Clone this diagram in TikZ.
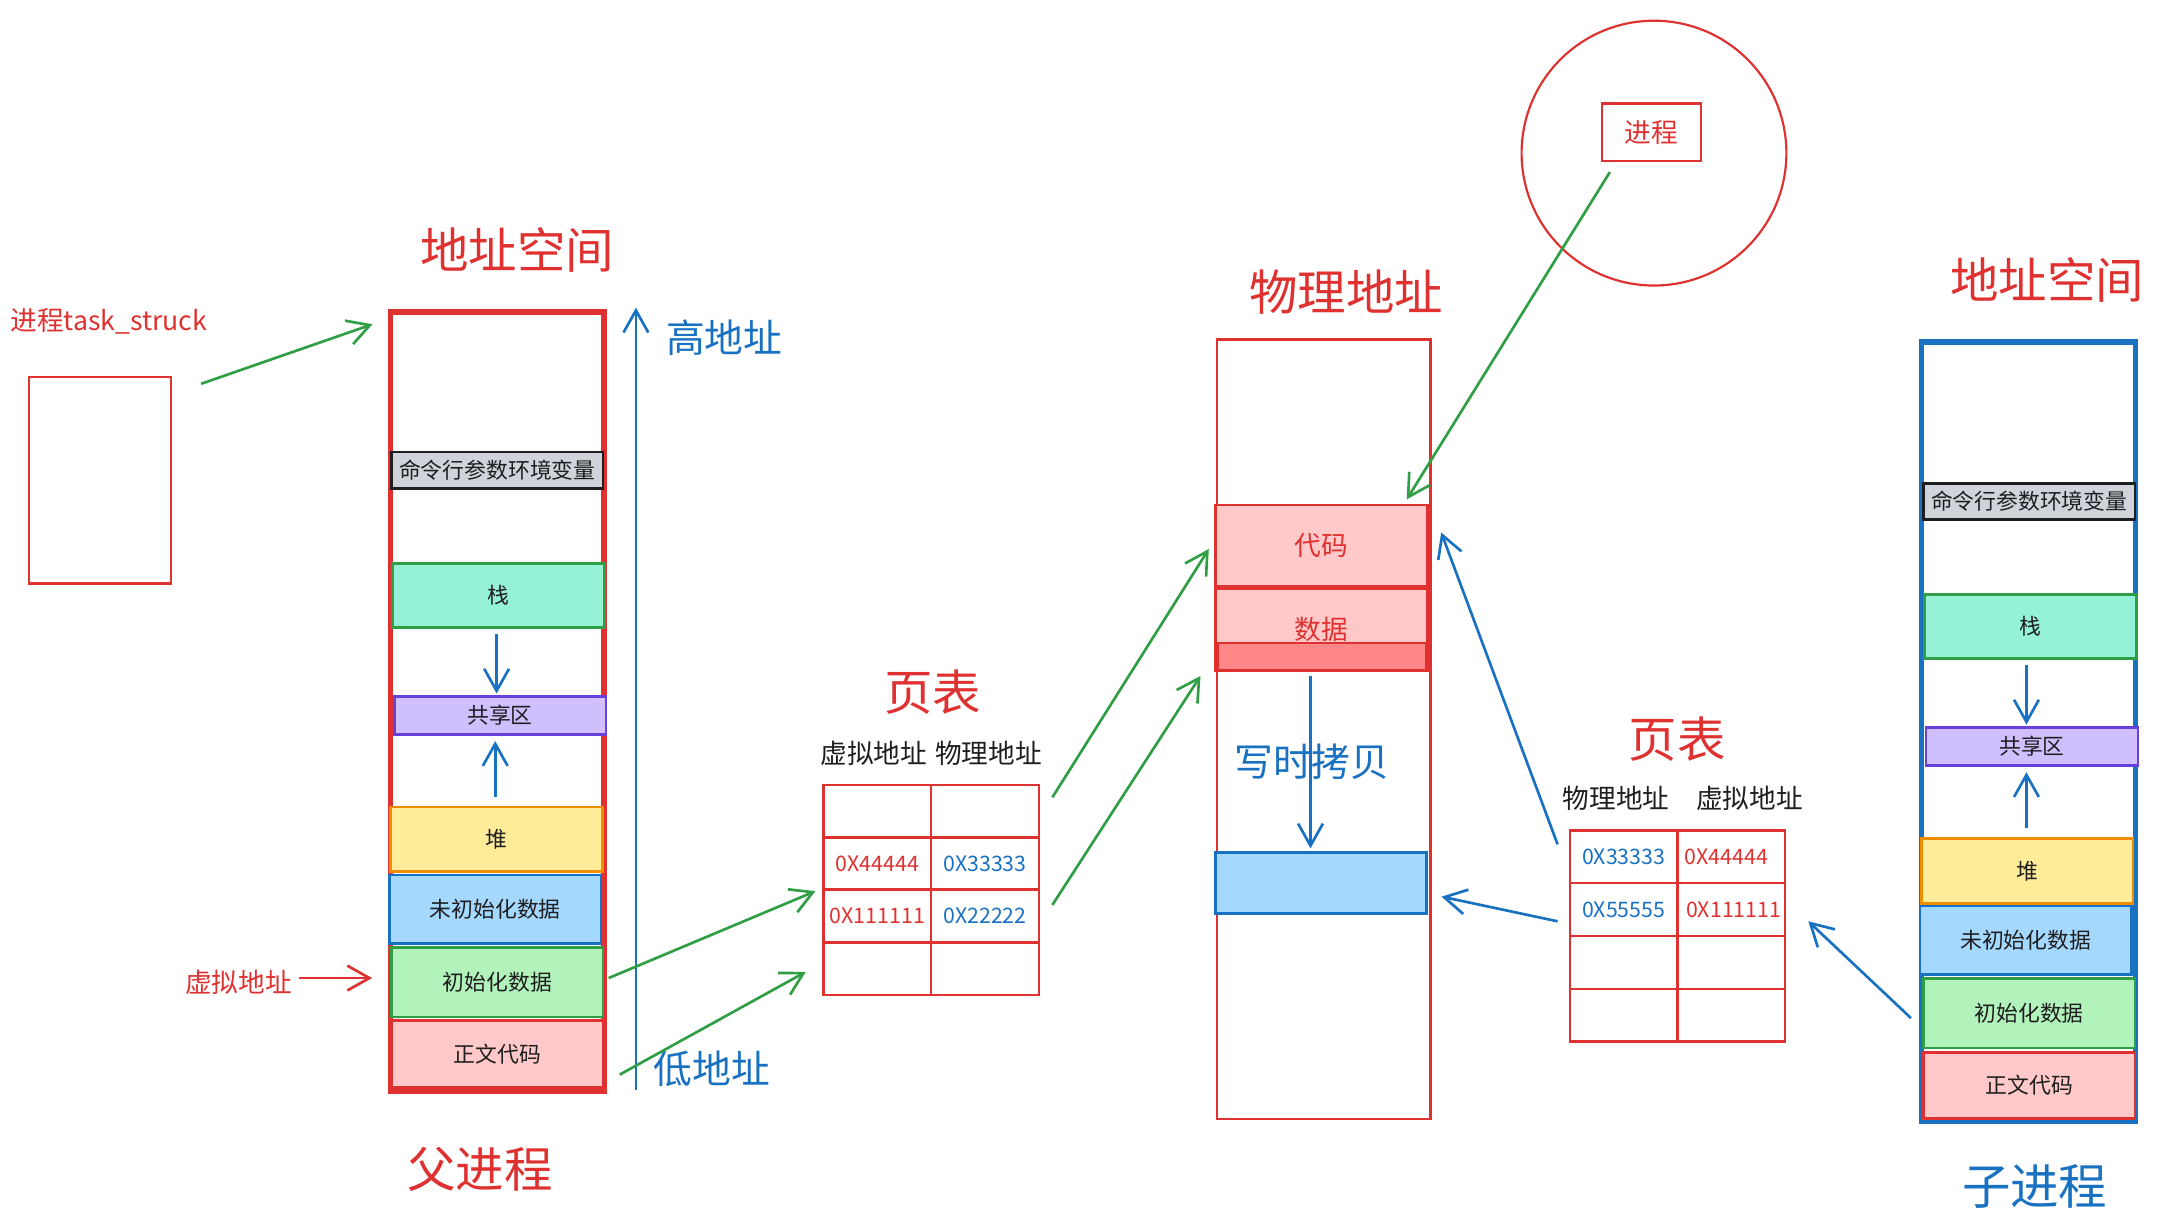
\documentclass[tikz,border=0pt]{standalone}
\usepackage{fontspec}
\setmainfont{Noto Sans CJK SC}
\usetikzlibrary{arrows.meta,positioning}
\definecolor{inkred}{HTML}{E03131}
\definecolor{inkgreen}{HTML}{2F9E44}
\definecolor{inkblue}{HTML}{1971C2}
\definecolor{inkblack}{HTML}{1E1E1E}
\definecolor{envgray}{HTML}{CED4DA}
\definecolor{stackteal}{HTML}{96F2D7}
\definecolor{sharepurple}{HTML}{D0BFFF}
\definecolor{shareedge}{HTML}{6741D9}
\definecolor{heapyellow}{HTML}{FFEC99}
\definecolor{heapedge}{HTML}{F08C00}
\definecolor{bssblue}{HTML}{A5D8FF}
\definecolor{initgreen}{HTML}{B2F2BB}
\definecolor{codepink}{HTML}{FFC9C9}
\definecolor{dirtyred}{HTML}{FF8787}

\begin{document}
\begin{tikzpicture}[
  x=0.02cm,y=-0.02cm,
  seg/.style={
    draw,
    line width=1.1pt,
    inner sep=0pt,
    outer sep=0pt,
    minimum width=3.07cm,
    text=inkblack,
    font=\fontsize{9}{11}\selectfont
  },
  envseg/.style={seg,fill=envgray,draw=inkblack,minimum height=0.53cm},
  stackseg/.style={seg,fill=stackteal,draw=inkgreen,minimum height=0.93cm},
  shareseg/.style={seg,fill=sharepurple,draw=shareedge,minimum height=0.55cm},
  heapseg/.style={seg,fill=heapyellow,draw=heapedge,minimum height=0.94cm},
  bssseg/.style={seg,fill=bssblue,draw=inkblue,minimum height=0.99cm},
  initseg/.style={seg,fill=initgreen,draw=inkgreen,minimum height=1.01cm},
  codeseg/.style={seg,fill=codepink,draw=inkred,minimum height=0.96cm},
  space/.style={draw,inner sep=0pt,outer sep=0pt,minimum width=3.1cm,minimum height=11.3cm},
  cell/.style={draw=inkred,line width=1pt,inner sep=0pt,minimum width=1.56cm,minimum height=0.765cm},
  title/.style={inner sep=0pt,font=\fontsize{20}{24}\selectfont},
  note/.style={inner sep=0pt,font=\fontsize{16}{19}\selectfont,text=inkblue},
  small/.style={inner sep=0pt,font=\fontsize{11}{13}\selectfont},
  addr/.style={inner sep=0pt,font=\fontsize{8.8}{11}\selectfont},
  flow/.style={-{Straight Barb[length=3.2mm,width=3.6mm]},line width=1.1pt,draw=inkgreen},
  back/.style={flow,draw=inkblue}
]
\useasboundingbox (0,0) rectangle (1568,889);

% task_struct
\node[small,text=inkred] (tasklbl) at (79,233) {进程task\_struck};
\node[draw=inkred,line width=0.9pt,minimum width=2.06cm,minimum height=3cm] (task) at (72.5,348) {};

% parent address space
\node[title,text=inkred] (ptitle) at (375,181) {地址空间};
\node[space,draw=inkred,line width=2.3pt] (pspace) at (360.5,508.5) {};
\node[envseg] (penv) at (360.5,341) {命令行参数环境变量};
\node[stackseg] (pstack) at (361.5,431.5) {栈};
\node[shareseg] (pshare) at (362.5,518.5) {共享区};
\node[heapseg] (pheap) at (360,608.5) {堆};
\node[bssseg] (pbss) at (359,659) {未初始化数据};
\node[initseg] (pinit) at (360.5,712) {初始化数据};
\node[codeseg] (pcode) at (360.5,764) {正文代码};
\node[note] (hiaddr) at (525,245) {高地址};
\node[note] (loaddr) at (516,775) {低地址};
\node[small,text=inkred] (vlabel) at (173,712) {虚拟地址};
\node[title,text=inkred] (pname) at (348,848) {父进程};

% parent page table
\node[title,text=inkred] (vttitle) at (676,502) {页表};
\node[small,text=inkblack] (vthead) at (675,546) {虚拟地址\hspace{0.3em}物理地址};
\foreach \r in {1,...,4}{
  \foreach \c in {1,2}{
    \node[cell] (vt-\r-\c) at ({597+78*(\c-0.5)},{569+38*(\r-0.5)}) {};
  }
}
\node[addr,text=inkred] (vtv1) at (vt-2-1) {0X44444};
\node[addr,text=inkblue] (vtp1) at (vt-2-2) {0X33333};
\node[addr,text=inkred] (vtv2) at (vt-3-1) {0X111111};
\node[addr,text=inkblue] (vtp2) at (vt-3-2) {0X22222};

% physical memory
\node[title,text=inkred] (phytitle) at (976,212) {物理地址};
\node[space,draw=inkred,line width=0.9pt] (phys) at (959.5,528.5) {};
\node[codeseg,minimum height=1.18cm,text=inkred,font=\fontsize{11}{13}\selectfont] (code) at (958,395.5) {代码};
\node[codeseg,minimum height=1.18cm,text=inkred,font=\fontsize{11}{13}\selectfont] (data) at (958,456.5) {数据};
\node[seg,fill=dirtyred,draw=inkred,minimum width=3.02cm,minimum height=0.4cm] (dirty) at (958.5,476) {};
\node[seg,fill=bssblue,draw=inkblue,minimum width=3.06cm,minimum height=0.88cm] (cow) at (957.5,640) {};
\node[note] (cowlbl) at (951,552) {写时拷贝};

% process
\node[draw=inkred,circle,line width=0.9pt,minimum size=3.84cm] (ring) at (1199,111) {};
\node[small,draw=inkred,text=inkred,line width=0.9pt,minimum width=1.44cm,minimum height=0.84cm] (proc) at (1197,96) {进程};

% child page table
\node[title,text=inkred] (rttitle) at (1216,536) {页表};
\node[small,text=inkblack] (rthead) at (1220,579) {物理地址\hspace{1em}虚拟地址};
\foreach \r in {1,...,4}{
  \foreach \c in {1,2}{
    \node[cell] (rt-\r-\c) at ({1138+78*(\c-0.5)},{602+38.25*(\r-0.5)}) {};
  }
}
\node[addr,text=inkblue] (rtp1) at (rt-1-1) {0X33333};
\node[addr,text=inkred] (rtv1) at ([xshift=-2pt]rt-1-2) {0X44444};
\node[addr,text=inkblue] (rtp2) at (rt-2-1) {0X55555};
\node[addr,text=inkred] (rtv2) at ([xshift=1pt]rt-2-2) {0X111111};

% child address space
\node[title,text=inkred] (ctitle) at (1484,203) {地址空间};
\node[space,draw=inkblue,line width=2.3pt] (cspace) at (1470.5,530.5) {};
\node[envseg] (cenv) at (1471,363.5) {命令行参数环境变量};
\node[stackseg] (cstack) at (1472,454) {栈};
\node[shareseg] (cshare) at (1473,541) {共享区};
\node[heapseg] (cheap) at (1469.5,631.5) {堆};
\node[bssseg] (cbss) at (1468.5,681.5) {未初始化数据};
\node[initseg] (cinit) at (1471,734.5) {初始化数据};
\node[codeseg] (ccode) at (1471,787) {正文代码};
\node[title,text=inkblue] (cname) at (1475,860) {子进程};

\draw[flow] ([shift={(21,6)}]task.north east) -- ([shift={(-13,9)}]pspace.north west);
\draw[flow,draw=inkred] ([shift={(5,-3)}]vlabel.east) -- ([shift={(-14,-3)}]pinit.west);
\draw[back] ([shift={(23,-1)}]pspace.south east) -- ([shift={(23,-3)}]pspace.north east);
\draw[back] ([shift={(-1.5,5)}]pstack.south) -- ([shift={(-2.5,-2)}]pshare.north);
\draw[back] ([shift={(-1,-7)}]pheap.north) -- ([shift={(-3.5,5)}]pshare.south);
\draw[flow] ([shift={(4,-3)}]pinit.east) -- ([shift={(-5,2)}]vt-3-1.north west);
\draw[flow] ([shift={(12,15)}]pcode.east) -- ([shift={(-12,2.5)}]vt-4-1.west);
\draw[flow] ([shift={(9,-10)}]vt-1-2.east) -- ([shift={(-5,2.5)}]code.west);
\draw[flow] ([shift={(9,-8)}]vt-3-2.east) -- ([shift={(-11,4)}]data.south west);
\draw[flow] ([shift={(-30,7)}]proc.south) -- ([shift={(-15,-4)}]code.north east);
\draw[back] ([shift={(-8,4)}]data.south) -- ([shift={(-7.5,-3)}]cow.north);
\draw[back] ([shift={(-8,11)}]rt-1-1.north west) -- ([shift={(10,-9.5)}]code.east);
\draw[back] ([shift={(-8,8.5)}]rt-2-1.west) -- ([shift={(11,10)}]cow.east);
\draw[back] ([shift={(-9,3.5)}]cinit.west) -- ([shift={(16,8.5)}]rt-2-2.east);
\draw[back] ([shift={(-3,5)}]cstack.south) -- ([shift={(-4,-2)}]cshare.north);
\draw[back] ([shift={(-0.5,-8)}]cheap.north) -- ([shift={(-4,5)}]cshare.south);
\end{tikzpicture}
\end{document}
